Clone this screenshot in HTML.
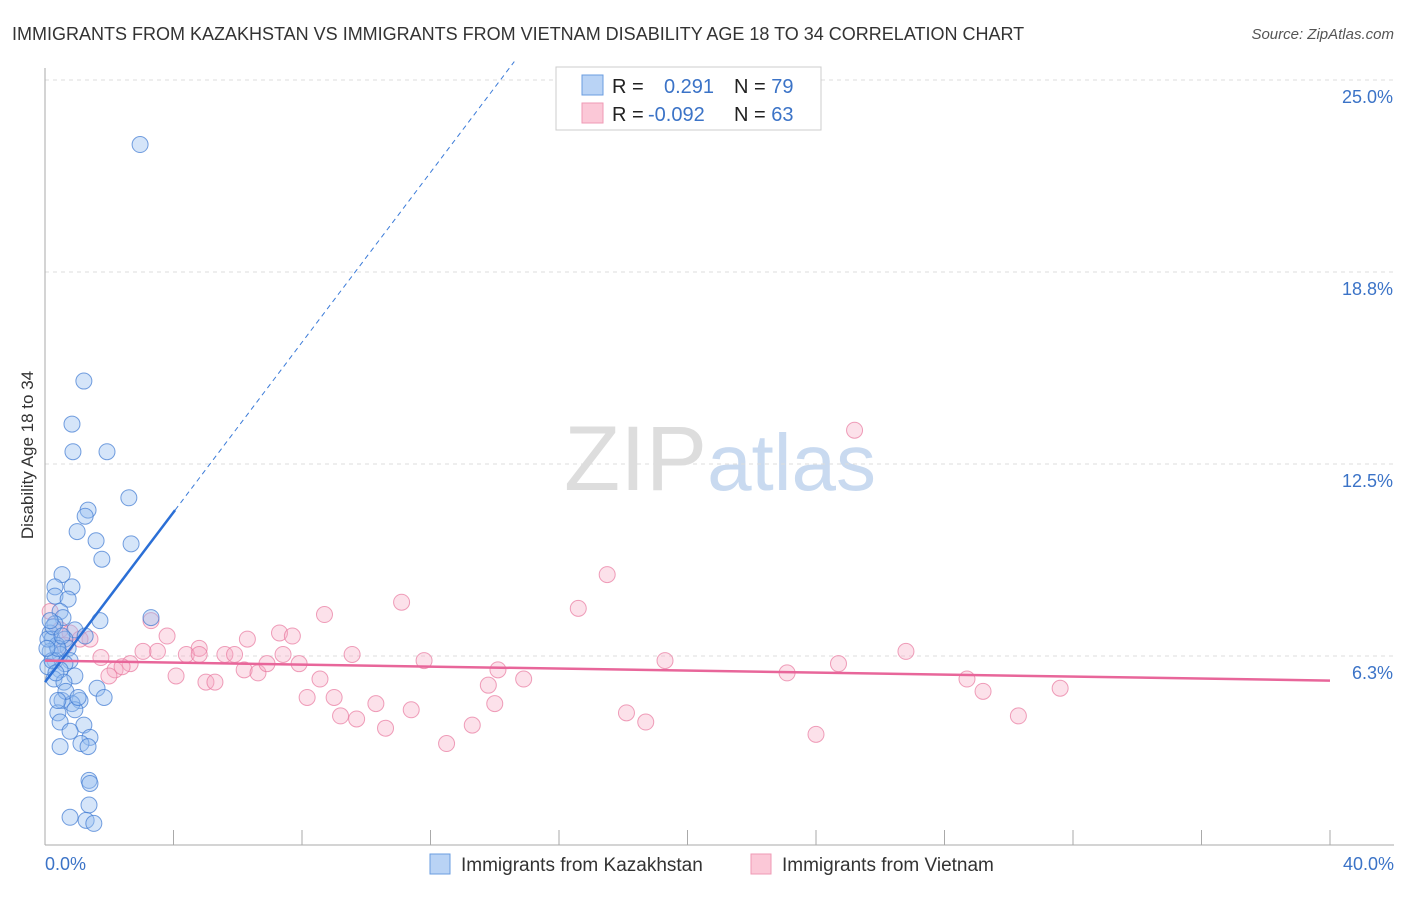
<!DOCTYPE html>
<html><head><meta charset="utf-8"><style>
body{margin:0;background:#fff;font-family:"Liberation Sans",sans-serif}
svg text{font-family:"Liberation Sans",sans-serif}
</style></head><body>
<svg id="chart" width="1406" height="892" xmlns="http://www.w3.org/2000/svg">
<text x="12" y="40" font-size="18" fill="#333">IMMIGRANTS FROM KAZAKHSTAN VS IMMIGRANTS FROM VIETNAM DISABILITY AGE 18 TO 34 CORRELATION CHART</text>
<text x="1394" y="39" font-size="15" fill="#555" text-anchor="end" font-style="italic">Source: ZipAtlas.com</text>
<text x="720" y="490" font-size="92" text-anchor="middle" fill="#ddd" font-family="Liberation Serif">ZIP<tspan fill="#c9daf0" font-family="Liberation Sans" font-size="80">atlas</tspan></text>
<g id="grid"></g>
<g id="axes"></g>
<g id="pts"></g>
<g id="trend"></g>
<text transform="translate(33,455) rotate(-90)" font-size="17" fill="#333" text-anchor="middle">Disability Age 18 to 34</text>
<text x="45" y="870" font-size="18" fill="#3b73c7">0.0%</text>
<text x="1394" y="870" font-size="18" fill="#3b73c7" text-anchor="end">40.0%</text>
<g>
<rect x="556" y="67" width="265" height="63" fill="#fff" stroke="#ccc"/>
<rect x="582" y="75" width="21" height="20" fill="#b9d3f5" stroke="#6a9de0"/>
<rect x="582" y="103" width="21" height="20" fill="#fbc8d7" stroke="#ef9ab4"/>
<text x="612" y="93" font-size="20" fill="#222">R = <tspan x="664" fill="#3b73c7">0.291</tspan><tspan x="734">N = </tspan><tspan fill="#3b73c7">79</tspan></text>
<text x="612" y="121" font-size="20" fill="#222">R = <tspan x="648" fill="#3b73c7">-0.092</tspan><tspan x="734">N = </tspan><tspan fill="#3b73c7">63</tspan></text>
</g>
<g>
<rect x="430" y="854" width="20" height="20" fill="#b9d3f5" stroke="#6a9de0"/>
<text x="461" y="871" font-size="19" fill="#333">Immigrants from Kazakhstan</text>
<rect x="751" y="854" width="20" height="20" fill="#fbc8d7" stroke="#ef9ab4"/>
<text x="782" y="871" font-size="19" fill="#333">Immigrants from Vietnam</text>
</g>
</svg>
<script>
const yTicks=[25.0,18.75,12.5,6.25];
const yTickLabels=["25.0%","18.8%","12.5%","6.3%"];
const xTickCount=10;
const kazX=[2.96,1.21,0.84,0.87,1.93,2.61,1.34,1.25,1.00,1.59,2.68,1.77,0.53,0.84,0.31,0.31,0.72,0.47,0.56,3.30,1.71,0.31,0.93,0.16,1.25,0.22,0.62,0.37,0.72,0.16,0.47,0.78,0.31,0.62,0.09,0.47,0.93,0.28,0.59,1.62,1.84,1.09,0.53,0.84,0.93,0.40,1.21,0.47,0.78,1.40,1.12,0.47,1.34,1.37,1.40,1.37,0.78,1.28,1.52,0.22,0.40,0.09,0.25,0.06,0.34,0.53,0.16,0.65,1.03,0.40];
const kazY=[22.9,15.2,13.8,12.9,12.9,11.4,11.0,10.8,10.3,10.0,9.9,9.4,8.9,8.5,8.5,8.2,8.1,7.7,7.5,7.5,7.4,7.3,7.1,7.0,6.9,6.8,6.8,6.6,6.5,6.4,6.3,6.1,6.1,6.0,5.9,5.8,5.6,5.5,5.4,5.2,4.9,4.8,4.8,4.7,4.5,4.4,4.0,4.1,3.8,3.6,3.4,3.3,3.3,2.2,2.1,1.4,1.0,0.9,0.8,6.1,6.5,6.8,7.2,6.5,5.7,6.9,7.4,5.1,4.9,4.8];
const vieX=[25.2,17.5,11.1,16.6,8.7,3.3,0.16,0.47,7.3,7.7,6.3,3.8,1.4,0.78,4.8,4.4,4.8,5.6,5.9,3.5,3.05,1.74,2.65,2.18,2.4,1.99,4.08,5.01,5.29,6.2,6.63,6.91,7.41,7.91,8.56,9.56,11.8,14.1,14.9,19.3,23.1,24.7,26.8,28.7,29.2,31.6,30.3,8.16,9.0,10.3,9.2,9.7,11.4,10.6,13.8,14.0,13.3,12.5,18.1,18.7,24.0,1.09,0.62];
const vieY=[13.6,8.9,8.0,7.8,7.6,7.4,7.7,7.1,7.0,6.9,6.8,6.9,6.8,7.0,6.5,6.3,6.3,6.3,6.3,6.4,6.4,6.2,6.0,5.8,5.9,5.6,5.6,5.4,5.4,5.8,5.7,6.0,6.3,6.0,5.5,6.3,6.1,5.8,5.5,6.1,5.7,6.0,6.4,5.5,5.1,5.2,4.3,4.9,4.9,4.7,4.3,4.2,4.5,3.9,5.3,4.7,4.0,3.4,4.4,4.1,3.7,6.8,6.6];
const kazTrend=[0,5.4,4.05,11.0];
const vieTrend=[0,6.1,40,5.45];
const NS="http://www.w3.org/2000/svg";
const X0=45,X1=1330,Y0=848,PXY=192/6.25;
function sx(v){return X0+(X1-X0)*v/40;}
function sy(v){return Y0-v*PXY;}
function mk(tag,attrs,parent){const e=document.createElementNS(NS,tag);for(const k in attrs)e.setAttribute(k,attrs[k]);parent.appendChild(e);return e;}
const grid=document.getElementById('grid'),axes=document.getElementById('axes'),pts=document.getElementById('pts'),trend=document.getElementById('trend');
yTicks.forEach((t,i)=>{
  const l=mk('line',{x1:X0,x2:1394,y1:sy(t),y2:sy(t),stroke:'#ddd','stroke-dasharray':'4,4'},grid);
  
  
  const tx=mk('text',{x:1393,y:sy(t)+23,'font-size':18,fill:'#3b73c7','text-anchor':'end'},grid);
  tx.textContent=yTickLabels[i];
  
  
});
const ya=mk('line',{x1:X0,x2:X0,y1:68,y2:845,stroke:'#aaa'},axes);


const xa=mk('line',{x1:X0,x2:1394,y1:845,y2:845,stroke:'#aaa'},axes);


for(let i=1;i<=xTickCount;i++){
  const v=40*i/xTickCount;
  const t=mk('line',{x1:sx(v),x2:sx(v),y1:830,y2:845,stroke:'#aaa'},axes);
  
  
}
vieX.forEach((x,i)=>{
  const c=mk('circle',{cx:sx(x),cy:sy(vieY[i]),r:8,fill:'rgba(246,170,195,0.35)',stroke:'rgba(232,120,158,0.7)','stroke-width':1},pts);
  
  
});
kazX.forEach((x,i)=>{
  const c=mk('circle',{cx:sx(x),cy:sy(kazY[i]),r:8,fill:'rgba(150,190,240,0.4)',stroke:'rgba(60,120,210,0.7)','stroke-width':1},pts);
  
  
});
const slope=(kazTrend[3]-kazTrend[1])/(kazTrend[2]-kazTrend[0]);
const xEnd=(25.6-kazTrend[1])/slope;
const kd=mk('line',{x1:sx(kazTrend[2]),y1:sy(kazTrend[3]),x2:sx(xEnd),y2:sy(25.6),stroke:'#3b7bd8','stroke-width':1,'stroke-dasharray':'5,4'},trend);


const kl=mk('line',{x1:sx(kazTrend[0]),y1:sy(kazTrend[1]),x2:sx(kazTrend[2]),y2:sy(kazTrend[3]),stroke:'#2b6fd6','stroke-width':2.5},trend);


const vl=mk('line',{x1:sx(vieTrend[0]),y1:sy(vieTrend[1]),x2:sx(vieTrend[2]),y2:sy(vieTrend[3]),stroke:'#e8669a','stroke-width':2.5},trend);


</script>
</body></html>
